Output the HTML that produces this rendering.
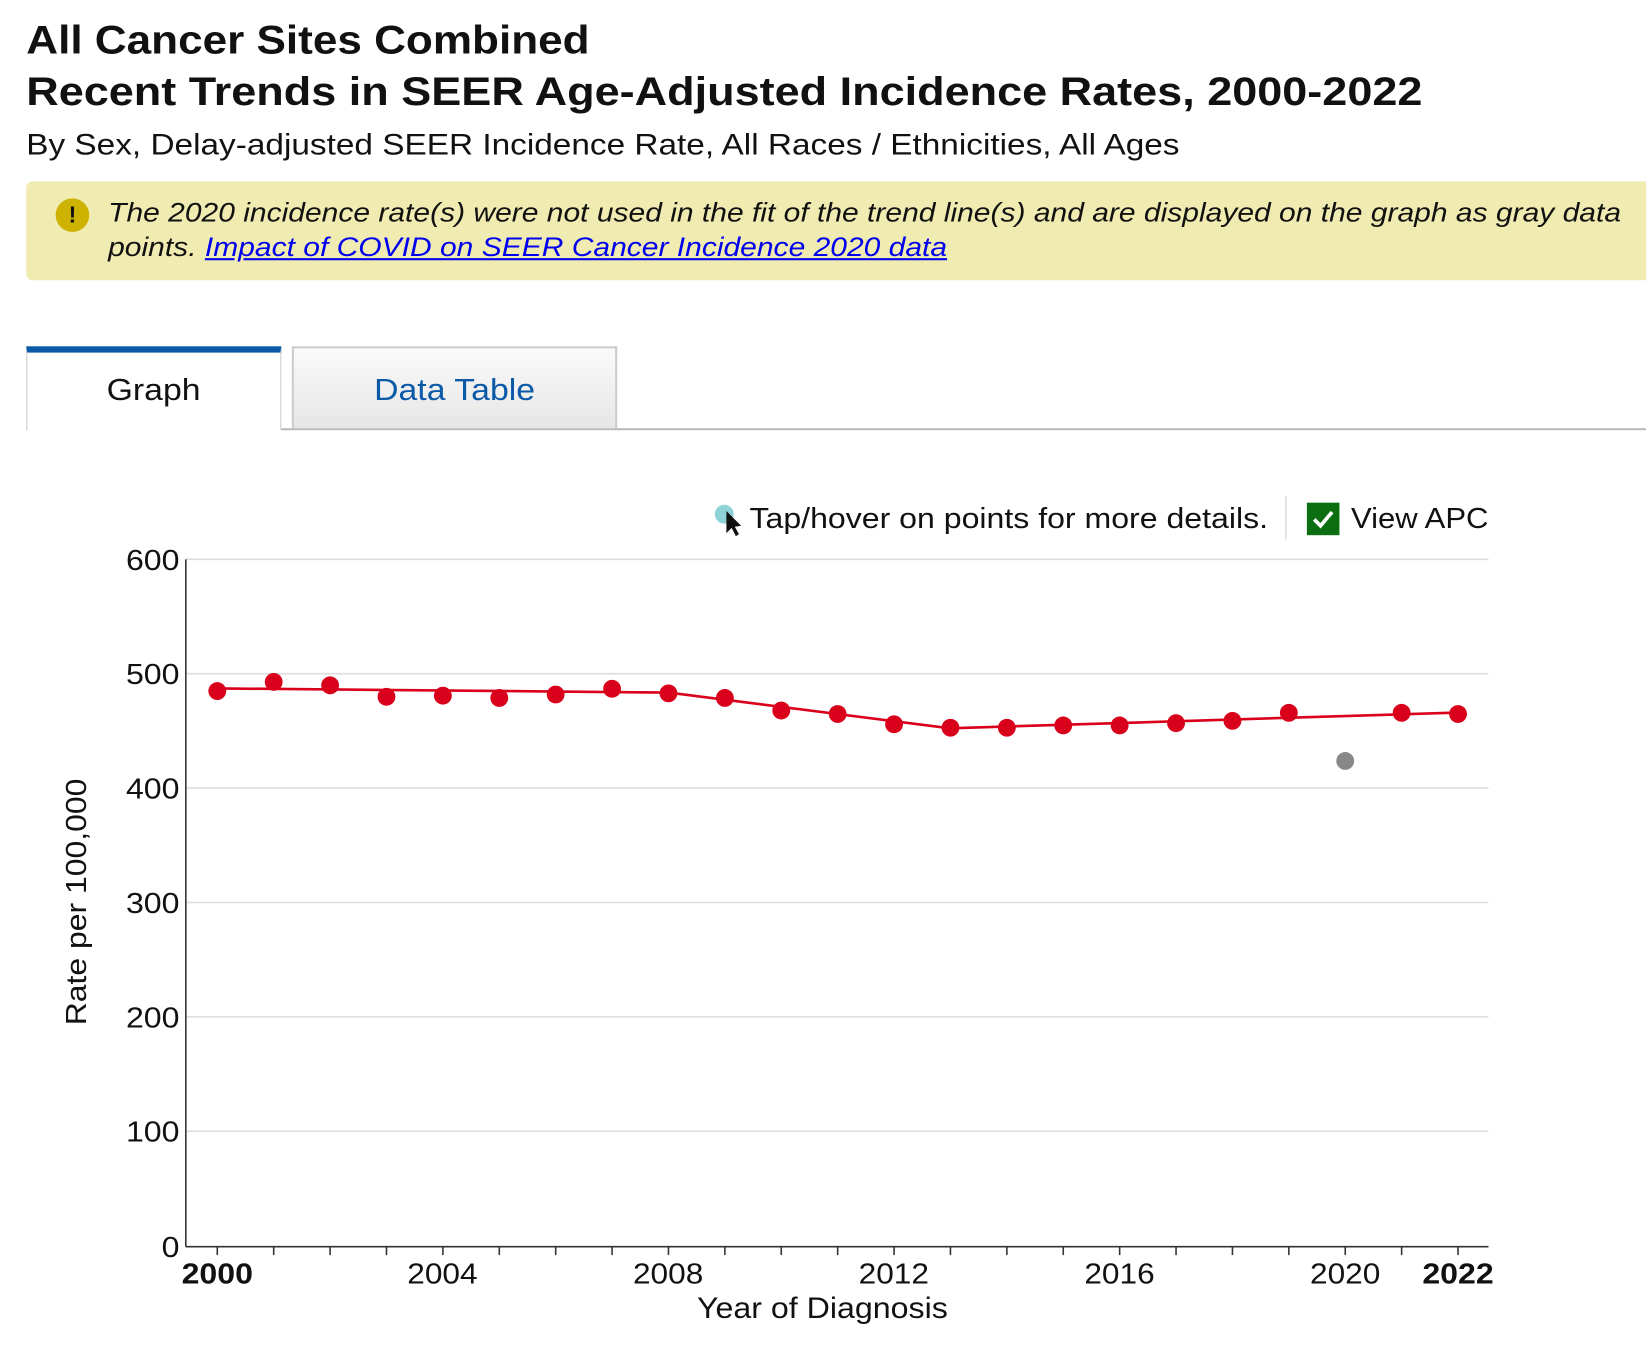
<!DOCTYPE html>
<html><head><style>
html,body{margin:0;padding:0;background:#fff;width:1646px;height:1360px;overflow:hidden}
#w{width:1568px;height:1296px;transform:scale(1.0497,1.0494);transform-origin:0 0;position:relative;font-family:"Liberation Sans",Arial,sans-serif;color:#111}
.t{position:absolute;left:25px;font-weight:bold;font-size:38px;white-space:nowrap;transform-origin:0 0}
.sub{position:absolute;left:25px;top:122px;font-size:28.5px;white-space:nowrap;transform:scaleX(1.115);transform-origin:0 0}
.note{position:absolute;left:25px;top:173px;width:1560px;height:94px;background:#f0ebb1;border-radius:6px}
.note .i{position:absolute;left:28px;top:16px;width:32px;height:32px;border-radius:50%;background:#cdb200;font-size:22px;font-weight:bold;text-align:center;line-height:32px}
.note p{position:absolute;left:78px;top:14px;margin:0;font-style:italic;font-size:25.3px;line-height:33px;white-space:nowrap;transform:scaleX(1.13);transform-origin:0 0}
.note a{color:#0000ee;text-decoration:underline}
.tab{position:absolute;top:330px;height:78px;box-sizing:border-box;font-size:29px;text-align:center;line-height:80px}
.tab span{display:inline-block;transform:scaleX(1.11)}
</style></head><body><div id="w">
<div class="t" style="top:18px;transform:scaleX(1.105)">All Cancer Sites Combined</div>
<div class="t" style="top:67px;transform:scaleX(1.128)">Recent Trends in SEER Age-Adjusted Incidence Rates, 2000-2022</div>
<div class="sub">By Sex, Delay-adjusted SEER Incidence Rate, All Races / Ethnicities, All Ages</div>
<div class="note"><div class="i">!</div><p>The 2020 incidence rate(s) were not used in the fit of the trend line(s) and are displayed on the graph as gray data<br>points. <a>Impact of COVID on SEER Cancer Incidence 2020 data</a></p></div>
<div style="position:absolute;left:268px;top:408px;width:1300px;height:2px;background:#bbb"></div>
<div class="tab" style="left:25px;width:243px;height:80px;border-top:6px solid #0b5aa8;border-left:1px solid #ccc;border-right:1px solid #ccc;background:#fff;line-height:72px"><span>Graph</span></div>
<div class="tab" style="left:278px;width:310px;border:2px solid #ccc;border-bottom:none;background:linear-gradient(#fafafa,#e6e6e6);color:#0b5aa8"><span>Data Table</span></div>
<svg style="position:absolute;left:0;top:0" width="1568" height="1296" font-family="Liberation Sans,Arial,sans-serif">
<circle cx="690" cy="490" r="9" fill="#8fd3d8"/>
<path d="M692 487 L692 508 L697 503 L701 511 L704 509 L700 502 L706 501 Z" fill="#111"/>
<text x="714" y="503" font-size="27" textLength="494" lengthAdjust="spacingAndGlyphs" fill="#111">Tap/hover on points for more details.</text>
<line x1="1225" y1="473" x2="1225" y2="514" stroke="#ccc"/>
<rect x="1245" y="479" width="31" height="31" fill="#0b6e10"/>
<path d="M1252 495 L1258 501 L1269 488" stroke="#fff" stroke-width="3.5" fill="none"/>
<text x="1287" y="503" font-size="27" textLength="131" lengthAdjust="spacingAndGlyphs" fill="#111">View APC</text>
<g stroke="#ddd" stroke-width="1.5">
<line x1="177" y1="533" x2="1418" y2="533"/><line x1="177" y1="642" x2="1418" y2="642"/><line x1="177" y1="751" x2="1418" y2="751"/><line x1="177" y1="860" x2="1418" y2="860"/><line x1="177" y1="969" x2="1418" y2="969"/><line x1="177" y1="1078" x2="1418" y2="1078"/>
</g>
<line x1="177" y1="533" x2="177" y2="1188" stroke="#333" stroke-width="1.5"/>
<line x1="177" y1="1188" x2="1418" y2="1188" stroke="#333" stroke-width="1.5"/>
<g font-size="27" fill="#111">
<text x="120" y="543" textLength="51" lengthAdjust="spacingAndGlyphs">600</text><text x="120" y="652" textLength="51" lengthAdjust="spacingAndGlyphs">500</text><text x="120" y="761" textLength="51" lengthAdjust="spacingAndGlyphs">400</text><text x="120" y="870" textLength="51" lengthAdjust="spacingAndGlyphs">300</text><text x="120" y="979" textLength="51" lengthAdjust="spacingAndGlyphs">200</text><text x="120" y="1088" textLength="51" lengthAdjust="spacingAndGlyphs">100</text><text x="154" y="1198" textLength="17" lengthAdjust="spacingAndGlyphs">0</text>
</g>
<text transform="translate(82 860) rotate(-90)" font-size="27" x="-117" textLength="235" lengthAdjust="spacingAndGlyphs" fill="#111">Rate per 100,000</text>
<g stroke="#333" stroke-width="1.5" id="ticks"></g>
<g font-size="27" fill="#111">
<text x="173" y="1223" font-weight="bold" textLength="68" lengthAdjust="spacingAndGlyphs">2000</text><text x="388" y="1223" textLength="67" lengthAdjust="spacingAndGlyphs">2004</text><text x="603" y="1223" textLength="67" lengthAdjust="spacingAndGlyphs">2008</text><text x="818" y="1223" textLength="67" lengthAdjust="spacingAndGlyphs">2012</text><text x="1033" y="1223" textLength="67" lengthAdjust="spacingAndGlyphs">2016</text><text x="1248" y="1223" textLength="67" lengthAdjust="spacingAndGlyphs">2020</text><text x="1355" y="1223" font-weight="bold" textLength="68" lengthAdjust="spacingAndGlyphs">2022</text>
</g>
<text x="664" y="1256" font-size="28" textLength="239" lengthAdjust="spacingAndGlyphs" fill="#111">Year of Diagnosis</text>
<polyline points="207,656 637,660 905,694 1389,679" fill="none" stroke="#d9001b" stroke-width="2.5"/>
<g id="pts"></g>
</svg>
<script>
var vals=[485,493,490,480,481,479,482,487,483,479,468,465,456,453,453,455,455,457,459,466,424,466,465];
var s='',t='';
for(var i=0;i<23;i++){var x=207+i*(1182/22),y=1188-vals[i]*655/600;
s+='<circle cx="'+x+'" cy="'+y+'" r="8.5" fill="'+(i==20?'#888':'#d9001b')+'"/>';
t+='<line x1="'+x+'" y1="1188" x2="'+x+'" y2="1196"/>';}
document.getElementById('pts').innerHTML=s;document.getElementById('ticks').innerHTML=t;
</script>
</div></body></html>
